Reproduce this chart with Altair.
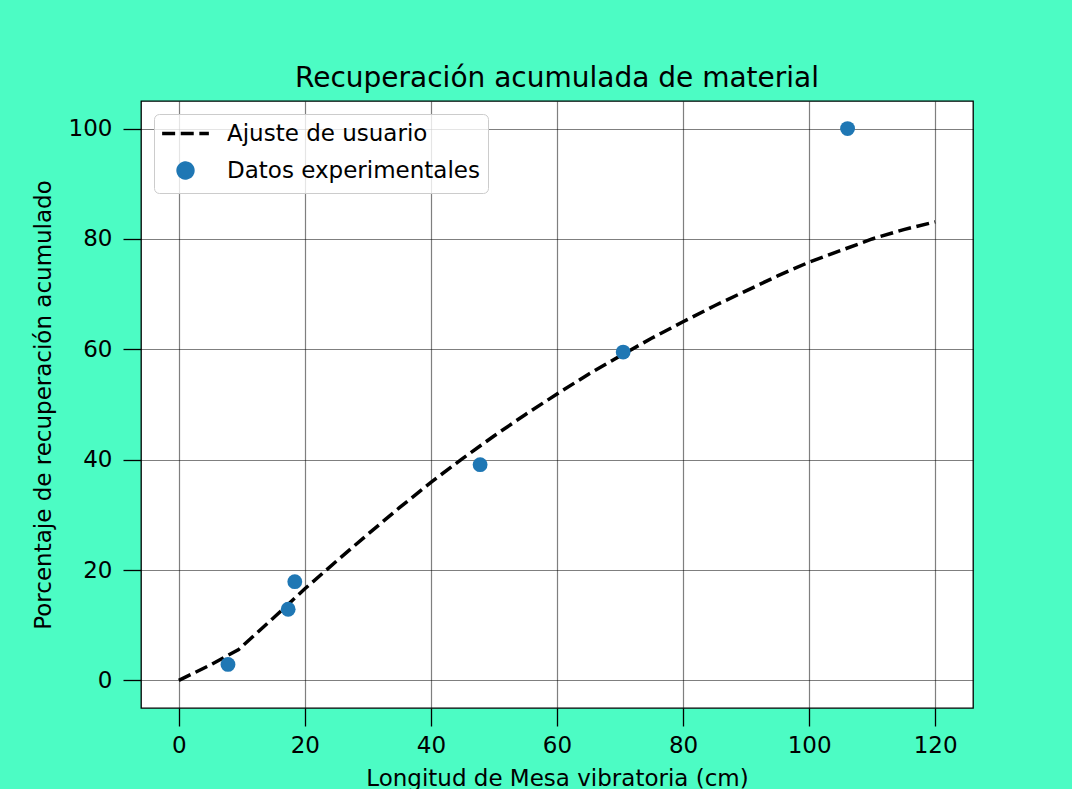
import altair as alt
import pandas as pd

# ---- data ----
fit_x = [0, 5, 9.5, 15, 20, 25, 30, 35, 40, 45, 50, 55, 60, 65, 70, 75, 80, 85, 90, 95, 100, 105, 110, 115, 120]
fit_y = [0, 2.8, 5.6, 11.3, 16.6, 21.6, 26.5, 31.3, 35.9, 40.2, 44.3, 48.2, 51.9, 55.5, 58.8, 62.0, 65.0, 67.9, 70.6, 73.3, 75.8, 77.9, 80.0, 81.7, 83.1]

exp_x = [7.8, 17.35, 18.4, 47.8, 70.5, 106.1]
exp_y = [2.9, 12.9, 17.9, 39.1, 59.5, 100.0]

series_names = ["Ajuste de usuario", "Datos experimentales"]
x_ticks = [0, 20, 40, 60, 80, 100, 120]
y_ticks = [0, 20, 40, 60, 80, 100]

fit = pd.DataFrame({"x": fit_x, "y": fit_y, "serie": series_names[0]})
exp = pd.DataFrame({"x": exp_x, "y": exp_y, "serie": series_names[1]})

FONT = "DejaVu Sans"

color_scale = alt.Scale(domain=series_names, range=["#000000", "#1f77b4"])
dash_scale = alt.Scale(domain=series_names, range=[[13, 5.6], [1, 0]])
shape_scale = alt.Scale(domain=series_names, range=["M-3.15,0H3.15", "circle"])

leg = alt.Legend(title=None)

x_enc = alt.X("x:Q", scale=alt.Scale(domain=[-6, 126], nice=False, zero=False),
              axis=alt.Axis(values=x_ticks, title="Longitud de Mesa vibratoria (cm)",
                            labelPadding=8, titlePadding=10))
y_enc = alt.Y("y:Q", scale=alt.Scale(domain=[-5, 105], nice=False, zero=False),
              axis=alt.Axis(values=y_ticks, title="Porcentaje de recuperación acumulado",
                            labelPadding=11, titlePadding=13))

line = alt.Chart(fit).mark_line(strokeWidth=3.5).encode(
    x=x_enc,
    y=y_enc,
    color=alt.Color("serie:N", scale=color_scale, legend=leg),
    strokeDash=alt.StrokeDash("serie:N", scale=dash_scale, legend=leg),
)

points = alt.Chart(exp).mark_point(filled=True, opacity=1, size=220).encode(
    x="x:Q",
    y="y:Q",
    color=alt.Color("serie:N", scale=color_scale, legend=leg),
    shape=alt.Shape("serie:N", scale=shape_scale, legend=leg),
)

chart = alt.layer(line, points).properties(
    width=832,
    height=607,
    title="Recuperación acumulada de material",
    autosize=alt.AutoSizeParams(type="none"),
    padding={"left": 141, "top": 101, "right": 99, "bottom": 81},
).configure(
    background="#4cfcc4",
    font=FONT,
).configure_view(
    stroke="black", strokeWidth=1.3, fill="white"
).configure_axis(
    grid=True, gridColor="black", gridOpacity=0.5, gridWidth=1.2,
    domain=False, tickColor="black", tickSize=18, tickWidth=1.3,
    labelFontSize=23, labelColor="black", labelFont=FONT,
    titleFontSize=23, titleColor="black", titleFontWeight="normal", titleFont=FONT,
).configure_title(
    fontSize=28, fontWeight="normal", color="black", font=FONT,
    baseline="alphabetic", offset=8, anchor="middle",
).configure_legend(
    orient="top-left", offset=13, labelFontSize=23, labelFont=FONT, labelColor="black",
    labelLimit=500, symbolSize=220,
    fillColor="rgba(255,255,255,0.8)", strokeColor="#cccccc", cornerRadius=5,
    padding=8, rowPadding=10, labelOffset=30, symbolOffset=12, symbolStrokeWidth=3.5,
)

chart.save("out.html", embed_options={"renderer": "svg", "actions": False})
